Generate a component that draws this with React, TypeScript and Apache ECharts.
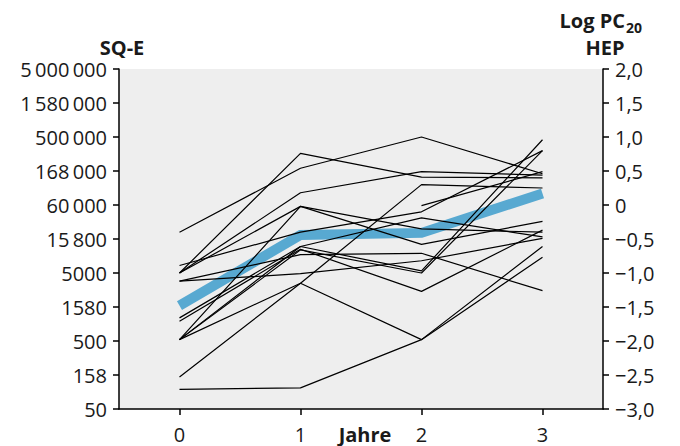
import React, { useEffect, useRef } from "react";
import * as echarts from "echarts";

const xCategories = ["0", "1", "2", "3"];

const leftTickLabels = [
  "50",
  "158",
  "500",
  "1580",
  "5000",
  "15\u2009800",
  "60\u2009000",
  "168\u2009000",
  "500\u2009000",
  "1\u2009580\u2009000",
  "5\u2009000\u2009000",
];

const rightTickLabels = [
  "\u22123,0",
  "\u22122,5",
  "\u22122,0",
  "\u22121,5",
  "\u22121,0",
  "\u22120,5",
  "0",
  "0,5",
  "1,0",
  "1,5",
  "2,0",
];

const meanValues = [-1.48, -0.44, -0.41, 0.17];

const p1 = [-0.4, 0.54, 1.0, 0.46];
const p2 = [-1.0, 0.76, 0.41, 0.4];
const p3 = [-1.0, 0.18, 0.49, 0.44];
const p4 = [-0.89, -0.4, -0.1, 0.8];
const p5 = [null, null, -0.01, 0.49];
const p6 = [-2.53, -1.15, 0.3, 0.25];
const p7 = [-1.98, -1.15, -1.98, -0.61];
const p8 = [-2.71, -2.69, -1.98, -0.77];
const p9 = [-1.98, -0.02, -0.58, -0.24];
const p10 = [-1.12, -0.73, -0.71, -1.26];
const p11 = [-1.12, -1.01, -0.82, -0.49];
const p12 = [-1.66, -0.61, -0.97, 0.96];
const p13 = [-1.71, -0.65, -1.27, -0.37];
const p14 = [-1.98, -0.61, -0.19, -0.47];
const p15 = [-1.98, -0.66, -1.0, 0.8];
const p16 = [-1.0, -0.02, -0.35, -0.4];

const patients = [p1, p2, p3, p4, p5, p6, p7, p8, p9, p10, p11, p12, p13, p14, p15, p16];

const FONT = "'Open Sans', 'Noto Sans', sans-serif";

export default function App() {
  const ref = useRef<HTMLDivElement>(null);

  useEffect(() => {
    if (!ref.current) return;
    const chart = echarts.init(ref.current, null, { renderer: "svg" });
    const idx = (v: number) => Math.round((v + 3) / 0.5);

    const axisCommon = {
      type: "value" as const,
      min: -3,
      max: 2,
      interval: 0.5,
      splitLine: { show: false },
      axisLine: { show: true, lineStyle: { color: "#000", width: 1.5 } },
      axisTick: { show: true, inside: false, length: 6, lineStyle: { color: "#000", width: 1.5 } },
    };

    const series: any[] = [
      {
        type: "line",
        data: meanValues,
        yAxisIndex: 0,
        showSymbol: false,
        symbol: "none",
        silent: true,
        z: 1,
        lineStyle: { color: "#58a9d1", width: 10, cap: "butt", join: "miter" },
      },
      ...patients.map((p) => ({
        type: "line",
        data: p.map((v) => (v === null ? "-" : v)),
        yAxisIndex: 0,
        showSymbol: false,
        symbol: "none",
        silent: true,
        connectNulls: false,
        z: 2,
        lineStyle: { color: "#000", width: 1.2 },
      })),
    ];

    const titleStyle = (text: string, align: string) => ({
      text,
      fontSize: 20,
      fontWeight: "bold",
      fontFamily: FONT,
      fill: "#1a1a1a",
      align,
      verticalAlign: "middle",
    });

    chart.setOption({
      animation: false,
      grid: {
        left: 119,
        right: 77,
        top: 69,
        bottom: 37,
        show: true,
        backgroundColor: "#eeeeee",
        borderWidth: 0,
        containLabel: false,
      },
      xAxis: {
        type: "category",
        data: xCategories,
        boundaryGap: true,
        axisLine: { show: true, onZero: false, lineStyle: { color: "#000", width: 1.5 } },
        axisTick: { show: true, alignWithLabel: true, length: 6, lineStyle: { color: "#000", width: 1.5 } },
        axisLabel: { color: "#1a1a1a", fontSize: 20, fontFamily: FONT, margin: 15 },
        splitLine: { show: false },
      },
      yAxis: [
        {
          ...axisCommon,
          position: "right",
          axisLabel: {
            color: "#1a1a1a",
            fontSize: 20,
            fontFamily: FONT,
            margin: 12,
            formatter: (v: number) => rightTickLabels[idx(v)] ?? "",
          },
        },
        {
          ...axisCommon,
          position: "left",
          axisLabel: {
            color: "#1a1a1a",
            fontSize: 20,
            fontFamily: FONT,
            margin: 12,
            formatter: (v: number) => leftTickLabels[idx(v)] ?? "",
          },
        },
      ],
      graphic: [
        { type: "text", x: 122, y: 47, style: titleStyle("SQ-E", "center") },
        { type: "text", x: 625, y: 20, style: titleStyle("Log PC", "right") },
        {
          type: "text",
          x: 626,
          y: 27,
          style: { ...titleStyle("20", "left"), fontSize: 14 },
        },
        { type: "text", x: 605, y: 47, style: titleStyle("HEP", "center") },
        { type: "text", x: 365, y: 434, style: titleStyle("Jahre", "center") },
      ],
      series,
    });

    return () => chart.dispose();
  }, []);

  return <div ref={ref} style={{ width: 680, height: 446, position: "absolute", left: 0, top: 0 }} />;
}
